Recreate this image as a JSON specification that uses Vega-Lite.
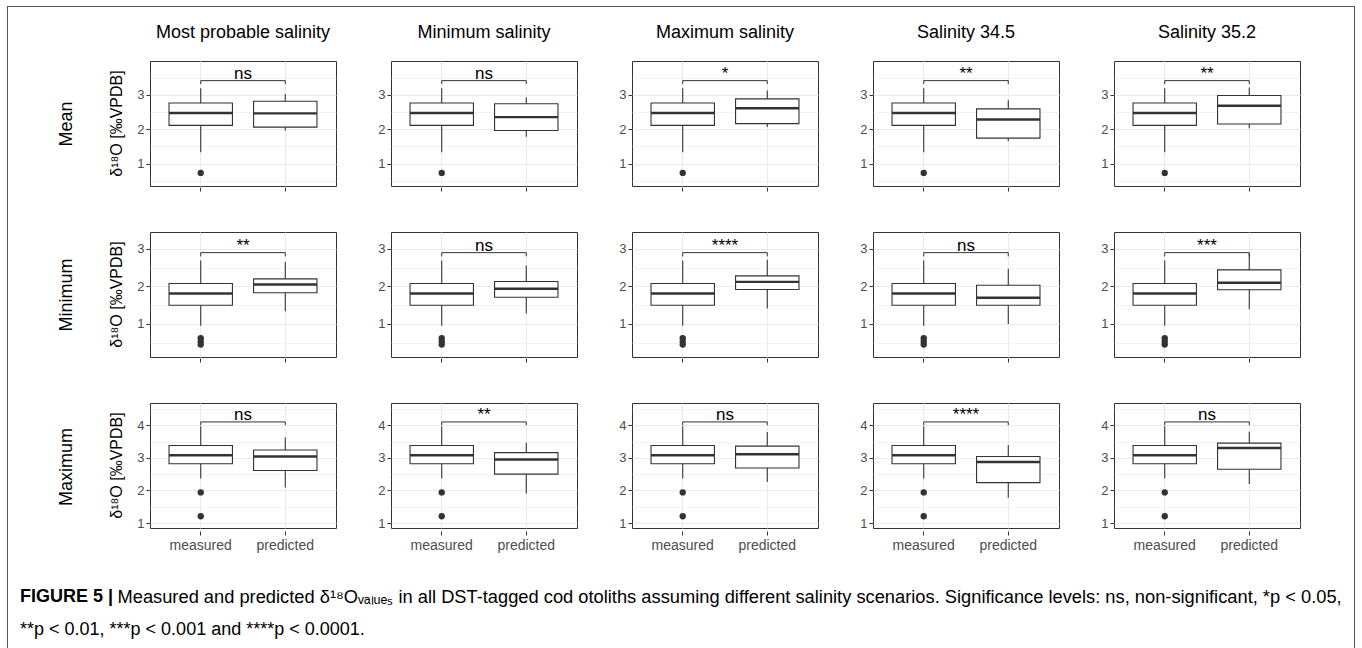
{
  "$schema": "https://vega.github.io/schema/vega-lite/v6.json",
  "padding": {"left": 7, "top": 6, "right": 0, "bottom": 0},
  "background": "white",
  "spacing": 0,
  "datasets": {
    "d": [
      {"stat": "Mean", "scen": "Most probable salinity", "kind": "box", "grp": "measured", "lo": 1.33, "q1": 2.11, "med": 2.47, "q3": 2.76, "hi": 3.19},
      {"stat": "Mean", "scen": "Most probable salinity", "kind": "box", "grp": "predicted", "lo": 1.96, "q1": 2.06, "med": 2.46, "q3": 2.81, "hi": 3.02},
      {"stat": "Mean", "scen": "Most probable salinity", "kind": "out", "grp": "measured", "v": 0.73},
      {"stat": "Mean", "scen": "Most probable salinity", "kind": "sig", "a": "measured", "b": "predicted", "br": 3.41, "tip": 3.31, "lab": "ns"},
      {"stat": "Mean", "scen": "Minimum salinity", "kind": "box", "grp": "measured", "lo": 1.33, "q1": 2.11, "med": 2.47, "q3": 2.76, "hi": 3.19},
      {"stat": "Mean", "scen": "Minimum salinity", "kind": "box", "grp": "predicted", "lo": 1.78, "q1": 1.96, "med": 2.35, "q3": 2.74, "hi": 2.92},
      {"stat": "Mean", "scen": "Minimum salinity", "kind": "out", "grp": "measured", "v": 0.73},
      {"stat": "Mean", "scen": "Minimum salinity", "kind": "sig", "a": "measured", "b": "predicted", "br": 3.41, "tip": 3.31, "lab": "ns"},
      {"stat": "Mean", "scen": "Maximum salinity", "kind": "box", "grp": "measured", "lo": 1.33, "q1": 2.11, "med": 2.47, "q3": 2.76, "hi": 3.19},
      {"stat": "Mean", "scen": "Maximum salinity", "kind": "box", "grp": "predicted", "lo": 2.06, "q1": 2.16, "med": 2.61, "q3": 2.88, "hi": 3.12},
      {"stat": "Mean", "scen": "Maximum salinity", "kind": "out", "grp": "measured", "v": 0.73},
      {"stat": "Mean", "scen": "Maximum salinity", "kind": "sig", "a": "measured", "b": "predicted", "br": 3.41, "tip": 3.31, "lab": "*"},
      {"stat": "Mean", "scen": "Salinity 34.5", "kind": "box", "grp": "measured", "lo": 1.33, "q1": 2.11, "med": 2.47, "q3": 2.76, "hi": 3.19},
      {"stat": "Mean", "scen": "Salinity 34.5", "kind": "box", "grp": "predicted", "lo": 1.65, "q1": 1.74, "med": 2.28, "q3": 2.59, "hi": 2.84},
      {"stat": "Mean", "scen": "Salinity 34.5", "kind": "out", "grp": "measured", "v": 0.73},
      {"stat": "Mean", "scen": "Salinity 34.5", "kind": "sig", "a": "measured", "b": "predicted", "br": 3.41, "tip": 3.31, "lab": "**"},
      {"stat": "Mean", "scen": "Salinity 35.2", "kind": "box", "grp": "measured", "lo": 1.33, "q1": 2.11, "med": 2.47, "q3": 2.76, "hi": 3.19},
      {"stat": "Mean", "scen": "Salinity 35.2", "kind": "box", "grp": "predicted", "lo": 2.03, "q1": 2.15, "med": 2.68, "q3": 2.98, "hi": 3.21},
      {"stat": "Mean", "scen": "Salinity 35.2", "kind": "out", "grp": "measured", "v": 0.73},
      {"stat": "Mean", "scen": "Salinity 35.2", "kind": "sig", "a": "measured", "b": "predicted", "br": 3.41, "tip": 3.31, "lab": "**"},

      {"stat": "Minimum", "scen": "Most probable salinity", "kind": "box", "grp": "measured", "lo": 0.95, "q1": 1.5, "med": 1.81, "q3": 2.08, "hi": 2.69},
      {"stat": "Minimum", "scen": "Most probable salinity", "kind": "box", "grp": "predicted", "lo": 1.34, "q1": 1.83, "med": 2.05, "q3": 2.2, "hi": 2.65},
      {"stat": "Minimum", "scen": "Most probable salinity", "kind": "out", "grp": "measured", "v": 0.62},
      {"stat": "Minimum", "scen": "Most probable salinity", "kind": "out", "grp": "measured", "v": 0.53},
      {"stat": "Minimum", "scen": "Most probable salinity", "kind": "out", "grp": "measured", "v": 0.45},
      {"stat": "Minimum", "scen": "Most probable salinity", "kind": "sig", "a": "measured", "b": "predicted", "br": 2.9, "tip": 2.8, "lab": "**"},
      {"stat": "Minimum", "scen": "Minimum salinity", "kind": "box", "grp": "measured", "lo": 0.95, "q1": 1.5, "med": 1.81, "q3": 2.08, "hi": 2.69},
      {"stat": "Minimum", "scen": "Minimum salinity", "kind": "box", "grp": "predicted", "lo": 1.28, "q1": 1.71, "med": 1.94, "q3": 2.13, "hi": 2.56},
      {"stat": "Minimum", "scen": "Minimum salinity", "kind": "out", "grp": "measured", "v": 0.62},
      {"stat": "Minimum", "scen": "Minimum salinity", "kind": "out", "grp": "measured", "v": 0.53},
      {"stat": "Minimum", "scen": "Minimum salinity", "kind": "out", "grp": "measured", "v": 0.45},
      {"stat": "Minimum", "scen": "Minimum salinity", "kind": "sig", "a": "measured", "b": "predicted", "br": 2.9, "tip": 2.8, "lab": "ns"},
      {"stat": "Minimum", "scen": "Maximum salinity", "kind": "box", "grp": "measured", "lo": 0.95, "q1": 1.5, "med": 1.81, "q3": 2.08, "hi": 2.69},
      {"stat": "Minimum", "scen": "Maximum salinity", "kind": "box", "grp": "predicted", "lo": 1.41, "q1": 1.92, "med": 2.12, "q3": 2.28, "hi": 2.71},
      {"stat": "Minimum", "scen": "Maximum salinity", "kind": "out", "grp": "measured", "v": 0.62},
      {"stat": "Minimum", "scen": "Maximum salinity", "kind": "out", "grp": "measured", "v": 0.53},
      {"stat": "Minimum", "scen": "Maximum salinity", "kind": "out", "grp": "measured", "v": 0.45},
      {"stat": "Minimum", "scen": "Maximum salinity", "kind": "sig", "a": "measured", "b": "predicted", "br": 2.9, "tip": 2.8, "lab": "****"},
      {"stat": "Minimum", "scen": "Salinity 34.5", "kind": "box", "grp": "measured", "lo": 0.95, "q1": 1.5, "med": 1.81, "q3": 2.08, "hi": 2.69},
      {"stat": "Minimum", "scen": "Salinity 34.5", "kind": "box", "grp": "predicted", "lo": 1.0, "q1": 1.5, "med": 1.7, "q3": 2.03, "hi": 2.47},
      {"stat": "Minimum", "scen": "Salinity 34.5", "kind": "out", "grp": "measured", "v": 0.62},
      {"stat": "Minimum", "scen": "Salinity 34.5", "kind": "out", "grp": "measured", "v": 0.53},
      {"stat": "Minimum", "scen": "Salinity 34.5", "kind": "out", "grp": "measured", "v": 0.45},
      {"stat": "Minimum", "scen": "Salinity 34.5", "kind": "sig", "a": "measured", "b": "predicted", "br": 2.9, "tip": 2.8, "lab": "ns"},
      {"stat": "Minimum", "scen": "Salinity 35.2", "kind": "box", "grp": "measured", "lo": 0.95, "q1": 1.5, "med": 1.81, "q3": 2.08, "hi": 2.69},
      {"stat": "Minimum", "scen": "Salinity 35.2", "kind": "box", "grp": "predicted", "lo": 1.39, "q1": 1.91, "med": 2.1, "q3": 2.44, "hi": 2.89},
      {"stat": "Minimum", "scen": "Salinity 35.2", "kind": "out", "grp": "measured", "v": 0.62},
      {"stat": "Minimum", "scen": "Salinity 35.2", "kind": "out", "grp": "measured", "v": 0.53},
      {"stat": "Minimum", "scen": "Salinity 35.2", "kind": "out", "grp": "measured", "v": 0.45},
      {"stat": "Minimum", "scen": "Salinity 35.2", "kind": "sig", "a": "measured", "b": "predicted", "br": 2.9, "tip": 2.8, "lab": "***"},

      {"stat": "Maximum", "scen": "Most probable salinity", "kind": "box", "grp": "measured", "lo": 2.37, "q1": 2.82, "med": 3.08, "q3": 3.38, "hi": 3.97},
      {"stat": "Maximum", "scen": "Most probable salinity", "kind": "box", "grp": "predicted", "lo": 2.09, "q1": 2.61, "med": 3.04, "q3": 3.24, "hi": 3.62},
      {"stat": "Maximum", "scen": "Most probable salinity", "kind": "out", "grp": "measured", "v": 1.94},
      {"stat": "Maximum", "scen": "Most probable salinity", "kind": "out", "grp": "measured", "v": 1.21},
      {"stat": "Maximum", "scen": "Most probable salinity", "kind": "sig", "a": "measured", "b": "predicted", "br": 4.1, "tip": 4.0, "lab": "ns"},
      {"stat": "Maximum", "scen": "Minimum salinity", "kind": "box", "grp": "measured", "lo": 2.37, "q1": 2.82, "med": 3.08, "q3": 3.38, "hi": 3.97},
      {"stat": "Maximum", "scen": "Minimum salinity", "kind": "box", "grp": "predicted", "lo": 1.91, "q1": 2.5, "med": 2.95, "q3": 3.16, "hi": 3.46},
      {"stat": "Maximum", "scen": "Minimum salinity", "kind": "out", "grp": "measured", "v": 1.94},
      {"stat": "Maximum", "scen": "Minimum salinity", "kind": "out", "grp": "measured", "v": 1.21},
      {"stat": "Maximum", "scen": "Minimum salinity", "kind": "sig", "a": "measured", "b": "predicted", "br": 4.1, "tip": 4.0, "lab": "**"},
      {"stat": "Maximum", "scen": "Maximum salinity", "kind": "box", "grp": "measured", "lo": 2.37, "q1": 2.82, "med": 3.08, "q3": 3.38, "hi": 3.97},
      {"stat": "Maximum", "scen": "Maximum salinity", "kind": "box", "grp": "predicted", "lo": 2.26, "q1": 2.69, "med": 3.11, "q3": 3.36, "hi": 3.79},
      {"stat": "Maximum", "scen": "Maximum salinity", "kind": "out", "grp": "measured", "v": 1.94},
      {"stat": "Maximum", "scen": "Maximum salinity", "kind": "out", "grp": "measured", "v": 1.21},
      {"stat": "Maximum", "scen": "Maximum salinity", "kind": "sig", "a": "measured", "b": "predicted", "br": 4.1, "tip": 4.0, "lab": "ns"},
      {"stat": "Maximum", "scen": "Salinity 34.5", "kind": "box", "grp": "measured", "lo": 2.37, "q1": 2.82, "med": 3.08, "q3": 3.38, "hi": 3.97},
      {"stat": "Maximum", "scen": "Salinity 34.5", "kind": "box", "grp": "predicted", "lo": 1.78, "q1": 2.24, "med": 2.87, "q3": 3.04, "hi": 3.39},
      {"stat": "Maximum", "scen": "Salinity 34.5", "kind": "out", "grp": "measured", "v": 1.94},
      {"stat": "Maximum", "scen": "Salinity 34.5", "kind": "out", "grp": "measured", "v": 1.21},
      {"stat": "Maximum", "scen": "Salinity 34.5", "kind": "sig", "a": "measured", "b": "predicted", "br": 4.1, "tip": 4.0, "lab": "****"},
      {"stat": "Maximum", "scen": "Salinity 35.2", "kind": "box", "grp": "measured", "lo": 2.37, "q1": 2.82, "med": 3.08, "q3": 3.38, "hi": 3.97},
      {"stat": "Maximum", "scen": "Salinity 35.2", "kind": "box", "grp": "predicted", "lo": 2.2, "q1": 2.65, "med": 3.3, "q3": 3.45, "hi": 3.8},
      {"stat": "Maximum", "scen": "Salinity 35.2", "kind": "out", "grp": "measured", "v": 1.94},
      {"stat": "Maximum", "scen": "Salinity 35.2", "kind": "out", "grp": "measured", "v": 1.21},
      {"stat": "Maximum", "scen": "Salinity 35.2", "kind": "sig", "a": "measured", "b": "predicted", "br": 4.1, "tip": 4.0, "lab": "ns"}
    ]
  },
  "hconcat": [
    {"width": 1, "height": 660, "data": {"values": []}, "mark": "point", "view": {"fill": "#555555", "stroke": null}},
    {
      "spacing": 17,
      "vconcat": [
        {"width": 1346, "height": 1, "data": {"values": []}, "mark": "point", "view": {"fill": "#555555", "stroke": null}},
        {
          "spacing": 48,
          "hconcat": [
            {"width": 1, "height": 1, "data": {"values": []}, "mark": "point", "view": {"fill": "white", "stroke": null}},
            {
              "spacing": 39,
              "vconcat": [
                {
                  "data": {"name": "d"},
                  "transform": [{"filter": "datum.stat === 'Mean'"}],
                  "facet": {
                    "row": {"field": "stat", "type": "nominal", "header": {"title": "Mean", "labelExpr": "'δ¹⁸O [‰VPDB]'"}},
                    "column": {"field": "scen", "type": "nominal", "sort": ["Most probable salinity", "Minimum salinity", "Maximum salinity", "Salinity 34.5", "Salinity 35.2"],
                      "header": {"title": null, "labelFontSize": 18, "labelColor": "black", "labelFont": "Liberation Sans", "labelPadding": 18}}
                  },
                  "spacing": {"column": 40},
                  "resolve": {"axis": {"y": "independent"}},
                  "spec": {
                    "width": 186,
                    "height": 125,
                    "resolve": {"axis": {"y": "independent"}},
                    "layer": [
                      {"transform": [{"filter": "datum.kind === 'box'"}], "mark": {"type": "rule", "color": "#333333", "strokeWidth": 1.1},
                       "encoding": {
                         "x": {"field": "grp", "type": "nominal", "title": null, "scale": {"type": "band", "domain": ["measured", "predicted"], "paddingInner": 0.25, "paddingOuter": 0.225}, "axis": {"labels": false, "grid": true, "bandPosition": 0.5}},
                         "y": {"field": "lo", "type": "quantitative", "title": null, "scale": {"domain": [0.35, 3.98], "nice": false, "zero": false},
                           "axis": {"values": [1, 2, 3], "grid": true, "gridWidth": 1.1}},
                         "y2": {"field": "hi"}}},
                      {"transform": [{"filter": "datum.kind === 'box'"}], "mark": {"type": "bar", "fill": "white", "stroke": "#333333", "strokeWidth": 1.1},
                       "encoding": {"x": {"field": "grp", "type": "nominal", "title": null}, "y": {"field": "q1", "type": "quantitative", "title": null, "axis": null}, "y2": {"field": "q3"}}},
                      {"transform": [{"filter": "datum.kind === 'box'"}], "mark": {"type": "rect", "fill": "#333333", "stroke": "#333333", "strokeWidth": 2.4},
                       "encoding": {"x": {"field": "grp", "type": "nominal", "title": null}, "y": {"field": "med", "type": "quantitative", "title": null, "axis": null}, "y2": {"field": "med"}}},
                      {"transform": [{"filter": "datum.kind === 'out'"}], "mark": {"type": "point", "filled": true, "color": "#333333", "opacity": 1, "size": 40},
                       "encoding": {"x": {"field": "grp", "type": "nominal", "title": null}, "y": {"field": "v", "type": "quantitative", "title": null,
                         "axis": {"orient": "right", "values": [0.5, 1.5, 2.5, 3.5], "labels": false, "ticks": false, "domain": false, "grid": true, "gridWidth": 0.6}}}},
                      {"transform": [{"filter": "datum.kind === 'sig'"}], "mark": {"type": "rule", "color": "#333333", "strokeWidth": 1},
                       "encoding": {"x": {"field": "a", "type": "nominal", "title": null, "bandPosition": 0.5}, "x2": {"field": "b", "bandPosition": 0.5}, "y": {"field": "br", "type": "quantitative", "title": null, "axis": null}}},
                      {"transform": [{"filter": "datum.kind === 'sig'"}], "mark": {"type": "rule", "color": "#333333", "strokeWidth": 1},
                       "encoding": {"x": {"field": "a", "type": "nominal", "title": null}, "y": {"field": "br", "type": "quantitative", "title": null, "axis": null}, "y2": {"field": "tip"}}},
                      {"transform": [{"filter": "datum.kind === 'sig'"}], "mark": {"type": "rule", "color": "#333333", "strokeWidth": 1},
                       "encoding": {"x": {"field": "b", "type": "nominal", "title": null}, "y": {"field": "br", "type": "quantitative", "title": null, "axis": null}, "y2": {"field": "tip"}}},
                      {"transform": [{"filter": "datum.kind === 'sig'"}], "mark": {"type": "text", "fontSize": 17, "color": "black", "baseline": "alphabetic", "dy": -2},
                       "encoding": {"x": {"field": "a", "type": "nominal", "title": null, "bandPosition": 1.1667}, "y": {"field": "br", "type": "quantitative", "title": null, "axis": null}, "text": {"field": "lab"}}}
                    ]
                  }
                },
                {
                  "data": {"name": "d"},
                  "transform": [{"filter": "datum.stat === 'Minimum'"}],
                  "facet": {
                    "row": {"field": "stat", "type": "nominal", "header": {"title": "Minimum", "labelExpr": "'δ¹⁸O [‰VPDB]'"}},
                    "column": {"field": "scen", "type": "nominal", "sort": ["Most probable salinity", "Minimum salinity", "Maximum salinity", "Salinity 34.5", "Salinity 35.2"],
                      "header": {"title": null, "labels": false}}
                  },
                  "spacing": {"column": 40},
                  "resolve": {"axis": {"y": "independent"}},
                  "spec": {
                    "width": 186,
                    "height": 125,
                    "resolve": {"axis": {"y": "independent"}},
                    "layer": [
                      {"transform": [{"filter": "datum.kind === 'box'"}], "mark": {"type": "rule", "color": "#333333", "strokeWidth": 1.1},
                       "encoding": {
                         "x": {"field": "grp", "type": "nominal", "title": null, "scale": {"type": "band", "domain": ["measured", "predicted"], "paddingInner": 0.25, "paddingOuter": 0.225}, "axis": {"labels": false, "grid": true, "bandPosition": 0.5}},
                         "y": {"field": "lo", "type": "quantitative", "title": null, "scale": {"domain": [0.12, 3.45], "nice": false, "zero": false},
                           "axis": {"values": [1, 2, 3], "grid": true, "gridWidth": 1.1}},
                         "y2": {"field": "hi"}}},
                      {"transform": [{"filter": "datum.kind === 'box'"}], "mark": {"type": "bar", "fill": "white", "stroke": "#333333", "strokeWidth": 1.1},
                       "encoding": {"x": {"field": "grp", "type": "nominal", "title": null}, "y": {"field": "q1", "type": "quantitative", "title": null, "axis": null}, "y2": {"field": "q3"}}},
                      {"transform": [{"filter": "datum.kind === 'box'"}], "mark": {"type": "rect", "fill": "#333333", "stroke": "#333333", "strokeWidth": 2.4},
                       "encoding": {"x": {"field": "grp", "type": "nominal", "title": null}, "y": {"field": "med", "type": "quantitative", "title": null, "axis": null}, "y2": {"field": "med"}}},
                      {"transform": [{"filter": "datum.kind === 'out'"}], "mark": {"type": "point", "filled": true, "color": "#333333", "opacity": 1, "size": 40},
                       "encoding": {"x": {"field": "grp", "type": "nominal", "title": null}, "y": {"field": "v", "type": "quantitative", "title": null,
                         "axis": {"orient": "right", "values": [0.5, 1.5, 2.5], "labels": false, "ticks": false, "domain": false, "grid": true, "gridWidth": 0.6}}}},
                      {"transform": [{"filter": "datum.kind === 'sig'"}], "mark": {"type": "rule", "color": "#333333", "strokeWidth": 1},
                       "encoding": {"x": {"field": "a", "type": "nominal", "title": null, "bandPosition": 0.5}, "x2": {"field": "b", "bandPosition": 0.5}, "y": {"field": "br", "type": "quantitative", "title": null, "axis": null}}},
                      {"transform": [{"filter": "datum.kind === 'sig'"}], "mark": {"type": "rule", "color": "#333333", "strokeWidth": 1},
                       "encoding": {"x": {"field": "a", "type": "nominal", "title": null}, "y": {"field": "br", "type": "quantitative", "title": null, "axis": null}, "y2": {"field": "tip"}}},
                      {"transform": [{"filter": "datum.kind === 'sig'"}], "mark": {"type": "rule", "color": "#333333", "strokeWidth": 1},
                       "encoding": {"x": {"field": "b", "type": "nominal", "title": null}, "y": {"field": "br", "type": "quantitative", "title": null, "axis": null}, "y2": {"field": "tip"}}},
                      {"transform": [{"filter": "datum.kind === 'sig'"}], "mark": {"type": "text", "fontSize": 17, "color": "black", "baseline": "alphabetic", "dy": -2},
                       "encoding": {"x": {"field": "a", "type": "nominal", "title": null, "bandPosition": 1.1667}, "y": {"field": "br", "type": "quantitative", "title": null, "axis": null}, "text": {"field": "lab"}}}
                    ]
                  }
                },
                {
                  "data": {"name": "d"},
                  "transform": [{"filter": "datum.stat === 'Maximum'"}],
                  "facet": {
                    "row": {"field": "stat", "type": "nominal", "header": {"title": "Maximum", "labelExpr": "'δ¹⁸O [‰VPDB]'"}},
                    "column": {"field": "scen", "type": "nominal", "sort": ["Most probable salinity", "Minimum salinity", "Maximum salinity", "Salinity 34.5", "Salinity 35.2"],
                      "header": {"title": null, "labels": false}}
                  },
                  "spacing": {"column": 40},
                  "resolve": {"axis": {"y": "independent"}},
                  "spec": {
                    "width": 186,
                    "height": 125,
                    "resolve": {"axis": {"y": "independent"}},
                    "layer": [
                      {"transform": [{"filter": "datum.kind === 'box'"}], "mark": {"type": "rule", "color": "#333333", "strokeWidth": 1.1},
                       "encoding": {
                         "x": {"field": "grp", "type": "nominal", "title": null, "scale": {"type": "band", "domain": ["measured", "predicted"], "paddingInner": 0.25, "paddingOuter": 0.225}, "axis": {"labels": true, "labelAngle": 0, "grid": true, "bandPosition": 0.5, "labelFontSize": 14, "labelPadding": 3}},
                         "y": {"field": "lo", "type": "quantitative", "title": null, "scale": {"domain": [0.85, 4.68], "nice": false, "zero": false},
                           "axis": {"values": [1, 2, 3, 4], "grid": true, "gridWidth": 1.1}},
                         "y2": {"field": "hi"}}},
                      {"transform": [{"filter": "datum.kind === 'box'"}], "mark": {"type": "bar", "fill": "white", "stroke": "#333333", "strokeWidth": 1.1},
                       "encoding": {"x": {"field": "grp", "type": "nominal", "title": null}, "y": {"field": "q1", "type": "quantitative", "title": null, "axis": null}, "y2": {"field": "q3"}}},
                      {"transform": [{"filter": "datum.kind === 'box'"}], "mark": {"type": "rect", "fill": "#333333", "stroke": "#333333", "strokeWidth": 2.4},
                       "encoding": {"x": {"field": "grp", "type": "nominal", "title": null}, "y": {"field": "med", "type": "quantitative", "title": null, "axis": null}, "y2": {"field": "med"}}},
                      {"transform": [{"filter": "datum.kind === 'out'"}], "mark": {"type": "point", "filled": true, "color": "#333333", "opacity": 1, "size": 40},
                       "encoding": {"x": {"field": "grp", "type": "nominal", "title": null}, "y": {"field": "v", "type": "quantitative", "title": null,
                         "axis": {"orient": "right", "values": [1.5, 2.5, 3.5, 4.5], "labels": false, "ticks": false, "domain": false, "grid": true, "gridWidth": 0.6}}}},
                      {"transform": [{"filter": "datum.kind === 'sig'"}], "mark": {"type": "rule", "color": "#333333", "strokeWidth": 1},
                       "encoding": {"x": {"field": "a", "type": "nominal", "title": null, "bandPosition": 0.5}, "x2": {"field": "b", "bandPosition": 0.5}, "y": {"field": "br", "type": "quantitative", "title": null, "axis": null}}},
                      {"transform": [{"filter": "datum.kind === 'sig'"}], "mark": {"type": "rule", "color": "#333333", "strokeWidth": 1},
                       "encoding": {"x": {"field": "a", "type": "nominal", "title": null}, "y": {"field": "br", "type": "quantitative", "title": null, "axis": null}, "y2": {"field": "tip"}}},
                      {"transform": [{"filter": "datum.kind === 'sig'"}], "mark": {"type": "rule", "color": "#333333", "strokeWidth": 1},
                       "encoding": {"x": {"field": "b", "type": "nominal", "title": null}, "y": {"field": "br", "type": "quantitative", "title": null, "axis": null}, "y2": {"field": "tip"}}},
                      {"transform": [{"filter": "datum.kind === 'sig'"}], "mark": {"type": "text", "fontSize": 17, "color": "black", "baseline": "alphabetic", "dy": -2},
                       "encoding": {"x": {"field": "a", "type": "nominal", "title": null, "bandPosition": 1.1667}, "y": {"field": "br", "type": "quantitative", "title": null, "axis": null}, "text": {"field": "lab"}}}
                    ]
                  }
                }
              ]
            }
          ]
        },
        {
          "width": 1323,
          "height": 70,
          "data": {"values": [{"c": 0}]},
          "mark": {"type": "text", "text": ""},
          "view": {"stroke": null},
          "encoding": {
            "x": {"field": "c", "type": "quantitative", "scale": {"domain": [0, 1]},
              "axis": {"orient": "bottom", "labels": false, "ticks": false, "domain": false, "grid": false,
                "title": "Measured and predicted δ¹⁸Oᵥₐₗᵤₑₛ in all DST-tagged cod otoliths assuming different salinity scenarios. Significance levels: ns, non-significant, *p < 0.05,",
                "titleAnchor": "start", "titleAlign": "left", "titleX": 109, "titleY": -51, "titleBaseline": "top",
                "titleFont": "Liberation Sans", "titleFontSize": 18.3, "titleFontWeight": "normal", "titleColor": "black"}}
          },
          "title": {
            "text": "FIGURE 5 |",
            "subtitle": "**p < 0.01, ***p < 0.001 and ****p < 0.0001.",
            "orient": "bottom",
            "anchor": "start",
            "frame": "group",
            "offset": -51,
            "dx": 12,
            "font": "Liberation Sans",
            "fontSize": 18,
            "fontWeight": "bold",
            "color": "black",
            "subtitleFont": "Liberation Sans",
            "subtitleFontSize": 18,
            "subtitleColor": "black",
            "subtitlePadding": 15
          }
        },
        {"width": 1346, "height": 1, "data": {"values": []}, "mark": "point", "view": {"fill": "#555555", "stroke": null}}
      ]
    },
    {"width": 1, "height": 660, "data": {"values": []}, "mark": "point", "view": {"fill": "#555555", "stroke": null}}
  ],
  "config": {
    "font": "Liberation Sans",
    "view": {"stroke": "#333333", "strokeWidth": 1},
    "axis": {"domain": false, "tickColor": "#333333", "tickSize": 4, "labelColor": "#4d4d4d", "labelFontSize": 13, "labelFont": "Liberation Sans", "labelPadding": 2, "labelOverlap": false, "gridColor": "#ebebeb", "title": null},
    "header": {
      "titleFont": "Liberation Sans", "titleFontSize": 18, "titleFontWeight": "normal", "titleColor": "black", "titlePadding": 4,
      "labelFont": "Liberation Sans", "labelFontSize": 16, "labelColor": "black", "labelPadding": 3
    },
    "headerRow": {"labelAngle": -90, "titleAngle": -90, "labelFontSize": 16, "titleFontSize": 18}
  }
}
